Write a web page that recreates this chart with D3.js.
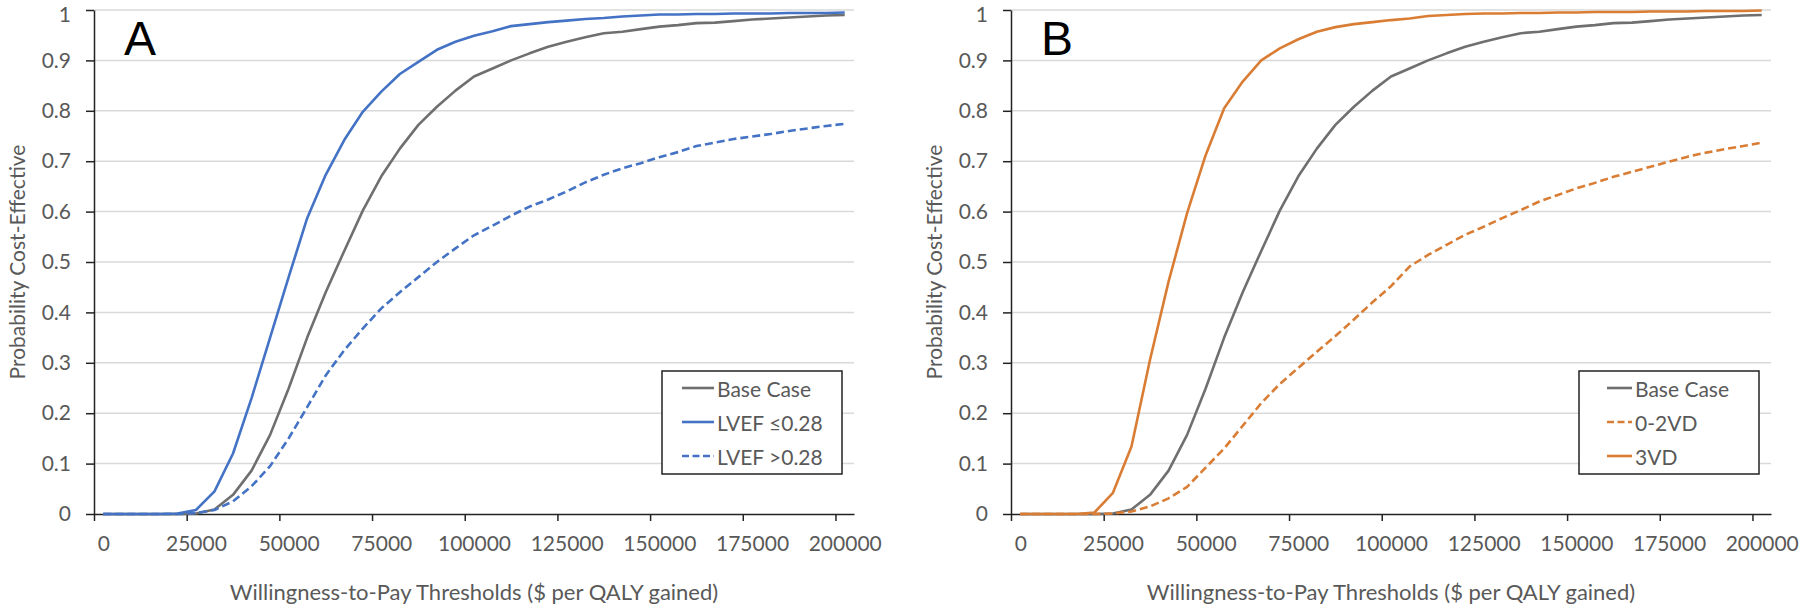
<!DOCTYPE html>
<html><head><meta charset="utf-8">
<script src="https://cdn.jsdelivr.net/npm/d3@7"></script>
<style>
html,body{margin:0;padding:0;background:#fff;}
svg{display:block;}
text{font-family:Lato,"Open Sans",sans-serif;}
</style></head>
<body>
<svg id="chart" width="1800" height="609"></svg>
<script>
// ---- Data ----
const wtp = [0,5000,10000,15000,20000,25000,30000,35000,40000,45000,50000,55000,60000,65000,70000,75000,80000,85000,90000,95000,100000,105000,110000,115000,120000,125000,130000,135000,140000,145000,150000,155000,160000,165000,170000,175000,180000,185000,190000,195000,200000];
const xTickLabels = [0,25000,50000,75000,100000,125000,150000,175000,200000];
const yTickLabels = [0,0.1,0.2,0.3,0.4,0.5,0.6,0.7,0.8,0.9,1];

const baseCase = [0,0,0,0,0,0.001,0.009,0.038,0.086,0.157,0.249,0.35,0.44,0.522,0.602,0.67,0.725,0.772,0.808,0.84,0.868,0.884,0.90,0.914,0.927,0.937,0.946,0.954,0.957,0.962,0.967,0.970,0.974,0.975,0.978,0.981,0.983,0.985,0.987,0.989,0.990];
const lvefLow = [0,0,0,0,0.001,0.008,0.045,0.12,0.23,0.35,0.47,0.587,0.673,0.742,0.798,0.838,0.873,0.897,0.921,0.937,0.949,0.958,0.968,0.972,0.976,0.979,0.982,0.984,0.987,0.989,0.991,0.991,0.992,0.992,0.993,0.993,0.993,0.994,0.994,0.994,0.995];
const lvefHigh = [0,0,0,0,0,0.002,0.008,0.025,0.055,0.095,0.15,0.212,0.275,0.325,0.368,0.408,0.44,0.47,0.50,0.527,0.553,0.572,0.592,0.610,0.624,0.640,0.658,0.673,0.686,0.696,0.708,0.718,0.730,0.737,0.744,0.749,0.754,0.760,0.765,0.770,0.774];
const vd02 = [0,0,0,0,0,0.001,0.005,0.015,0.031,0.054,0.092,0.13,0.175,0.22,0.258,0.29,0.322,0.353,0.386,0.42,0.452,0.491,0.514,0.534,0.554,0.570,0.587,0.603,0.620,0.633,0.646,0.657,0.669,0.679,0.689,0.699,0.709,0.717,0.724,0.730,0.737];
const vd3 = [0,0,0,0,0.003,0.042,0.134,0.306,0.461,0.597,0.712,0.805,0.858,0.90,0.924,0.942,0.957,0.966,0.972,0.976,0.980,0.983,0.988,0.990,0.992,0.993,0.993,0.994,0.994,0.995,0.995,0.996,0.996,0.996,0.997,0.997,0.997,0.998,0.998,0.998,0.999];

const panels = [
  {label:"A", series:[
    {name:"Base Case", values:baseCase, color:"#6f6f6f", dash:null},
    {name:"LVEF \u22640.28", values:lvefLow, color:"#4472C4", dash:null},
    {name:"LVEF >0.28", values:lvefHigh, color:"#4472C4", dash:"8,4"}
  ]},
  {label:"B", series:[
    {name:"Base Case", values:baseCase, color:"#6f6f6f", dash:null},
    {name:"0-2VD", values:vd02, color:"#D97D35", dash:"8,4"},
    {name:"3VD", values:vd3, color:"#D97D35", dash:null}
  ]}
];

// ---- Layout ----
const svg = d3.select("#chart");
const layout = [
  {x0:94, legX:662, legLineX:682, legTextX:717},
  {x0:1011, legX:1579, legLineX:1607, legTextX:1635}
];
const plotW = 760, yTop = 10, yBot = 514;
const textColor = "#595959";

panels.forEach((p, i) => {
  const L = layout[i];
  const x = d3.scaleLinear().domain([-2500, 202500]).range([L.x0, L.x0 + plotW]);
  const y = d3.scaleLinear().domain([0, 1]).range([yBot, yTop]);
  const g = svg.append("g");

  // gridlines
  g.append("g").selectAll("line").data(yTickLabels.filter(d => d > 0)).join("line")
    .attr("x1", L.x0).attr("x2", L.x0 + plotW)
    .attr("y1", d => y(d)).attr("y2", d => y(d))
    .attr("stroke", "#d9d9d9").attr("stroke-width", 1.5);

  // y axis
  const yAxis = d3.axisLeft(y).tickValues(yTickLabels)
    .tickFormat(d => d === 0 ? "0" : d === 1 ? "1" : d3.format(".1f")(d))
    .tickSize(8).tickSizeOuter(0).tickPadding(15);
  const ya = g.append("g").attr("transform", `translate(${L.x0},0)`).call(yAxis);
  ya.select(".domain").attr("stroke", "#222").attr("stroke-width", 1.5);
  ya.selectAll(".tick line").attr("stroke", "#222").attr("stroke-width", 1.5);
  ya.selectAll(".tick text").attr("fill", textColor).style("font-size", "21px").style("font-family", "Lato")
    .attr("dy", d => d === 1 ? "0.55em" : "0.32em");

  // x axis
  const halfStep = x(2500) - x(0);
  const xAxis = d3.axisBottom(x).tickValues(xTickLabels).tickFormat(d3.format("d"))
    .tickSize(7).tickSizeOuter(0).tickPadding(15);
  const xa = g.append("g").attr("transform", `translate(0,${yBot})`).call(xAxis);
  xa.select(".domain").attr("stroke", "#222").attr("stroke-width", 1.5);
  xa.selectAll(".tick line").attr("stroke", "#222").attr("stroke-width", 1.5)
    .attr("transform", `translate(${-halfStep},0)`);
  xa.selectAll(".tick text").attr("fill", textColor).style("font-size", "21px").style("font-family", "Lato");

  // axis titles
  g.append("text").attr("x", L.x0 + plotW / 2).attr("y", 600).attr("text-anchor", "middle")
    .attr("fill", textColor).style("font-size", "22px")
    .text("Willingness-to-Pay Thresholds ($ per QALY gained)");
  g.append("text").attr("transform", `translate(${L.x0 - 78},${(yTop + yBot) / 2}) rotate(-90)`)
    .attr("text-anchor", "middle").attr("dominant-baseline", "central")
    .attr("fill", textColor).style("font-size", "21px")
    .text("Probability Cost-Effective");

  // lines
  const line = d3.line().x((d, k) => x(wtp[k])).y(d => y(d));
  p.series.forEach(s => {
    g.append("path").datum(s.values).attr("d", line)
      .attr("fill", "none").attr("stroke", s.color).attr("stroke-width", 2.6)
      .attr("stroke-linejoin", "round")
      .attr("stroke-dasharray", s.dash);
  });

  // panel label
  g.append("text").attr("x", L.x0 + 30).attr("y", 55)
    .style("font-family", "'Liberation Sans', Arial, sans-serif").style("font-size", "48px")
    .attr("fill", "#000").text(p.label);

  // legend
  const lg = g.append("g");
  lg.append("rect").attr("x", L.legX).attr("y", 371).attr("width", 180).attr("height", 103)
    .attr("fill", "#fff").attr("stroke", "#222").attr("stroke-width", 1.5);
  p.series.forEach((s, j) => {
    const cy = 388 + j * 34;
    lg.append("line").attr("x1", L.legLineX).attr("x2", L.legTextX - 3)
      .attr("y1", cy).attr("y2", cy).attr("stroke", s.color).attr("stroke-width", 2.6)
      .attr("stroke-dasharray", s.dash ? "7,3.5" : null);
    lg.append("text").attr("x", L.legTextX).attr("y", cy).attr("dominant-baseline", "central")
      .attr("fill", textColor).style("font-size", "21px").text(s.name);
  });
});
</script>
</body></html>
